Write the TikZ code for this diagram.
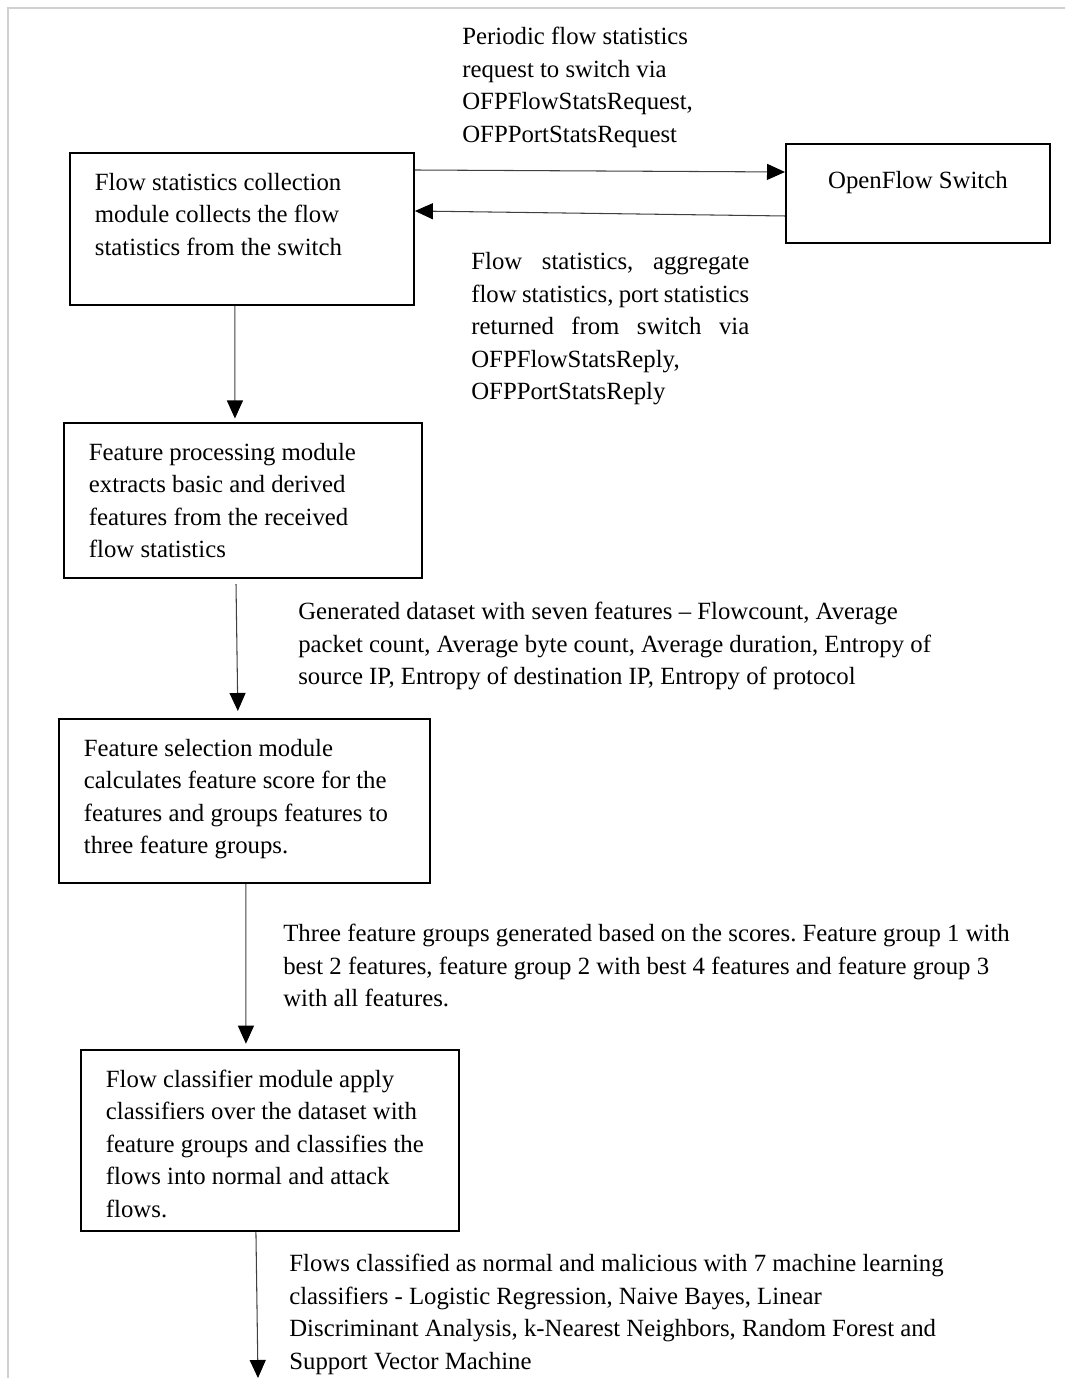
\documentclass[tikz,border=0pt]{standalone}
\usepackage{fontspec}
\setmainfont{Liberation Serif}
\usepackage{tikz}
\usetikzlibrary{arrows.meta,positioning}
\frenchspacing
\colorlet{fr}{black!18}
\colorlet{ln}{black!75}
\newcommand{\mdtext}[3]{\parbox[t][#2][t]{#1}{#3}}
\tikzset{md/.style={draw=black, line width=1.1pt, anchor=north west, inner xsep=0.5cm, inner ysep=0.4cm},
         lb/.style={anchor=north west, inner sep=0pt, align=left},
         cn/.style={draw=ln, line width=0.6pt, -{Triangle[length=0.36cm,width=0.32cm,color=black]}}}

\begin{document}
\begin{tikzpicture}[x=0.02cm, y=-0.02cm, font=\fontsize{14.1}{18.5}\selectfont]
\useasboundingbox (0,0) rectangle (1065,1378);
\draw[fr, line width=1pt] (8,1378) -- (8,8) -- (1065,8);

\node[md] (A) at (69,152) {\mdtext{5.88cm}{2.24cm}{
    Flow statistics collection\\
    module collects the flow\\
    statistics from the switch}};
\node[md, inner ysep=0.54cm] (sw) at (785,143) {\mdtext{4.28cm}{0.9cm}{\centering OpenFlow Switch}};
\node[md] (B) at (63,422) {\mdtext{6.16cm}{2.3cm}{
    Feature processing module\\
    extracts basic and derived\\
    features from the received\\
    flow statistics}};
\node[md] (C) at (58,718) {\mdtext{6.42cm}{2.48cm}{
    Feature selection module\\
    calculates feature score for the\\
    features and groups features to\\
    three feature groups.}};
\node[md] (D) at (80,1049) {\mdtext{6.56cm}{2.82cm}{
    Flow classifier module apply\\
    classifiers over the dataset with\\
    feature groups and classifies the\\
    flows into normal and attack\\
    flows.}};
\coordinate (out) at (258,1378);

\node[lb] (req) at (462,27) {Periodic flow statistics\\
    request to switch via\\
    OFPFlowStatsRequest,\\
    OFPPortStatsRequest};
\node[lb] (rep) at (471,252) {\makebox[5.56cm][s]{Flow statistics, aggregate}\\
    \makebox[5.56cm][s]{flow statistics, port statistics}\\
    \makebox[5.56cm][s]{returned from switch via}\\
    OFPFlowStatsReply,\\
    OFPPortStatsReply};
\node[lb] (ds) at (298,602) {Generated dataset with seven features -- Flowcount, Average\\
    packet count, Average byte count, Average duration, Entropy of\\
    source IP, Entropy of destination IP, Entropy of protocol};
\node[lb] (grp) at (283,924) {Three feature groups generated based on the scores. Feature group 1 with\\
    best 2 features, feature group 2 with best 4 features and feature group 3\\
    with all features.};
\node[lb] (cls) at (289,1254) {Flows classified as normal and malicious with 7 machine learning\\
    classifiers - Logistic Regression, Naive Bayes, Linear\\
    Discriminant Analysis, k-Nearest Neighbors, Random Forest and\\
    Support Vector Machine};

\draw[cn] ([yshift=-0.36cm]A.north east) -- ([yshift=-0.58cm]sw.north west);
\draw[cn] ([yshift=-1.46cm]sw.north west) -- ([yshift=-1.18cm]A.north east);
\draw[cn, shorten >=2pt] ([xshift=-0.14cm]A.south) -- ([xshift=-0.16cm]B.north);
\draw[cn, shorten <=3pt, shorten >=4pt] ([xshift=-0.14cm]B.south) -- ([xshift=-0.13cm]C.north);
\draw[cn, shorten >=3pt] ([xshift=0.03cm]C.south) -- ([xshift=-0.48cm]D.north);
\draw[cn] ([xshift=-0.28cm]D.south) -- (out);
\end{tikzpicture}
\end{document}
